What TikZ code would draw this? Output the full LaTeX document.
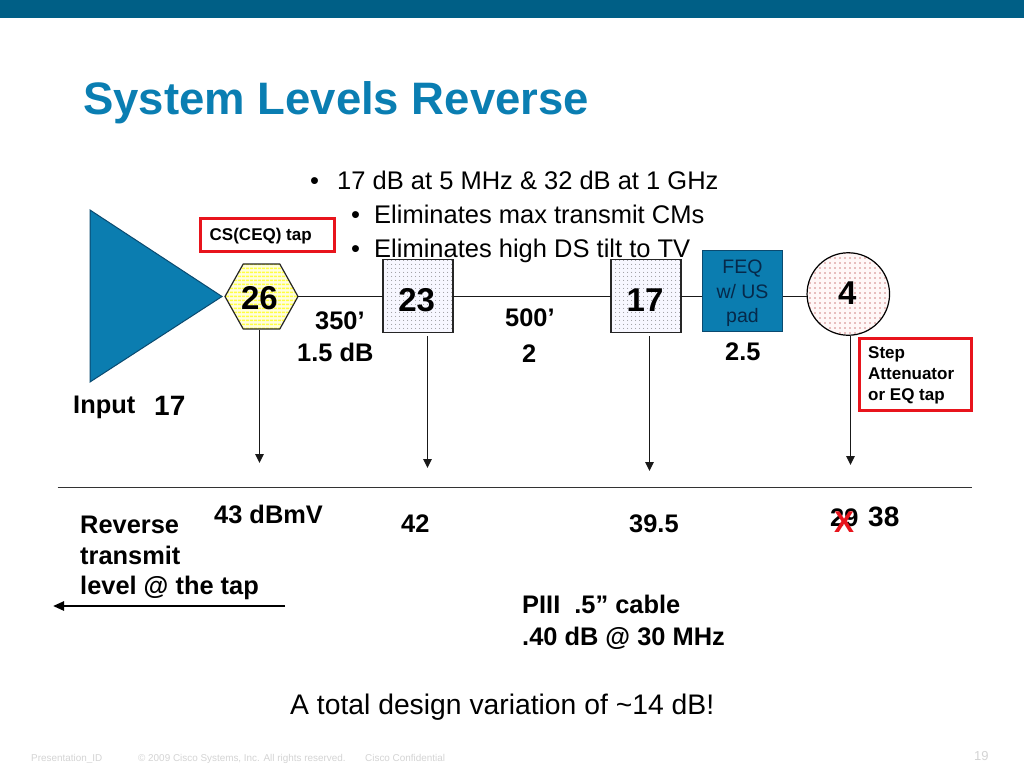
\documentclass[tikz,border=0pt]{standalone}
\usepackage{fontspec}
\setmainfont{Liberation Sans}
\usetikzlibrary{shapes.geometric,patterns.meta,arrows.meta}
\definecolor{ciscoblue}{HTML}{0A7EB2}
\definecolor{topbar}{HTML}{005F86}
\definecolor{boxblue}{HTML}{0B7DB0}
\definecolor{darkblue}{HTML}{0A4A70}
\definecolor{feqtext}{HTML}{06294A}
\definecolor{framered}{HTML}{E8141C}
\definecolor{footgray}{HTML}{D4D4D4}
\newcommand{\fs}[1]{\fontsize{#1}{#1}\selectfont}
\tikzset{
  lbl/.style={anchor=base west,inner sep=0pt,font=\fs{25.4}\bfseries},
  plain/.style={anchor=base west,inner sep=0pt,font=\fs{25.5}},
  small/.style={anchor=base west,inner sep=0pt,font=\fs{17}\bfseries},
  feqt/.style={anchor=base,inner sep=0pt,text=feqtext,font=\fs{19.5}},
  val/.style={inner sep=0pt,font=\fs{33}\bfseries},
  foot/.style={anchor=base west,inner sep=0pt,text=footgray,font=\fs{9.9}},
  wire/.style={draw=black!90,line width=1.5pt},
  drop/.style={draw=black!90,line width=1.5pt,-{Triangle[length=9pt,width=8.5pt]}},
  redbox/.style={draw=framered,line width=3pt,anchor=north west,inner sep=0pt,outer sep=0pt},
  dotbox/.style={draw=black!85,line width=1.2pt,minimum width=70pt,minimum height=73.5pt,inner sep=0pt,outer sep=0pt,
    preaction={fill=blue!3},
    pattern={Dots[distance=4pt,radius=0.6pt]},pattern color=black!60},
}
\begin{document}
\begin{tikzpicture}[x=1pt,y=-1pt]
\useasboundingbox (0,0) rectangle (1024,768);
\fill[white] (0,0) rectangle (1024,768);
\fill[topbar] (0,0) rectangle (1024,18);
\node[anchor=base west,inner sep=0pt,text=ciscoblue,font=\fs{45.5}\bfseries] (title) at (83,114) {System Levels Reverse};
% bullets
\node[plain] (b1) at (310,189) {•};
\node[plain] (t1) at (337,189) {17 dB at 5 MHz \& 32 dB at 1 GHz};
\node[plain] (b2) at (351,223) {•};
\node[plain] (t2) at (374,223) {Eliminates max transmit CMs};
\node[plain] (b3) at (351,257) {•};
\node[plain] (t3) at (374,257) {Eliminates high DS tilt to TV};
% amplifier
\path[fill=boxblue,draw=darkblue,line width=1pt] (90,210) -- (222,296.5) -- (90,382) -- cycle;
% devices
\node[regular polygon,regular polygon sides=6,minimum size=73pt,inner sep=0pt,outer sep=0pt,yscale=1.03,draw=black!85,line width=1.2pt,
  preaction={fill=yellow!12},pattern={Lines[angle=0,distance=4pt,line width=1.8pt]},pattern color=yellow!75] (hex) at (261.5,296.5) {};
\node[val] (v26) at (259.5,298) {26};
\node[dotbox] (d23) at (418,296) {};
\node[val] (v23) at (416.7,300.5) {23};
\node[dotbox] (d17) at (646,296) {};
\node[val] (v17) at (645,300) {17};
\node[draw=darkblue,line width=1pt,fill=boxblue,minimum width=80.5pt,minimum height=81.5pt,inner sep=0pt,outer sep=0pt] (feq) at (742.7,290.8) {};
\node[feqt] (q1) at (742.5,273) {FEQ};
\node[feqt] (q2) at (742.5,298) {w/ US};
\node[feqt] (q3) at (742.5,322) {pad};
\node[circle,draw=black,line width=1.2pt,minimum size=82.5pt,inner sep=0pt,outer sep=0pt,preaction={fill=red!3},
  pattern={Dots[distance=5pt,radius=0.65pt]},pattern color=red!60!black] (circ) at (848.3,294) {};
\node[val] (v4) at (847.3,293.5) {4};
% wires
\draw[wire] (hex.east |- 0,296.5) -- (d23.west |- 0,296.5);
\draw[wire] (d23.east |- 0,296.5) -- (d17.west |- 0,296.5);
\draw[wire] (d17.east |- 0,296.5) -- (feq.west |- 0,296.5);
\draw[wire] (feq.east |- 0,296.5) -- (circ.west |- 0,296.5);
% drops
\coordinate (s26) at (259.5,330); \coordinate (e26) at (259.5,463);
\coordinate (s23) at (427.5,336); \coordinate (e23) at (427.5,468);
\coordinate (s17) at (649.5,336); \coordinate (e17) at (649.5,471);
\coordinate (s4) at (850.5,336); \coordinate (e4) at (850.5,465);
\draw[drop] (s26) -- (e26);
\draw[drop] (s23) -- (e23);
\draw[drop] (s17) -- (e17);
\draw[drop] (s4) -- (e4);
% baseline
\coordinate (hl) at (57.5,487.5); \coordinate (hr) at (972,487.5);
\draw[draw=black!80,line width=1.6pt] (hl) -- (hr);
\coordinate (al) at (53,606); \coordinate (ar) at (285,606);
\draw[draw=black,line width=2.4pt,-{Triangle[length=11pt,width=9pt]}] (ar) -- (al);
% red frames
\node[redbox,minimum width=134pt,minimum height=33pt] (csbox) at (200.5,218.5) {};
\node[small] (cs) at (209.5,240) {CS(CEQ) tap};
\node[redbox,minimum width=112pt,minimum height=72pt] (stepbox) at (859.5,338.2) {};
\node[small] (st1) at (868,358) {Step};
\node[small] (st2) at (868,379) {Attenuator};
\node[small] (st3) at (868,400) {or EQ tap};
% labels
\node[lbl] (l350) at (315,329) {350’};
\node[lbl] (l15) at (297,361) {1.5 dB};
\node[lbl] (l500) at (505,326) {500’};
\node[lbl] (l2) at (522,362) {2};
\node[lbl] (l25) at (725,360) {2.5};
\node[lbl] (inp) at (73,413) {Input};
\node[lbl,font=\fs{28}\bfseries] (i17) at (154,415) {17};
\node[lbl] (l43) at (214,523) {43 dBmV};
\node[lbl] (l42) at (401,532) {42};
\node[lbl] (l395) at (629,532) {39.5};
\node[lbl] (l29) at (830,526.5) {29};
\node[lbl,font=\fs{28}\bfseries] (l38) at (868,526.5) {38};
\node[lbl,text=framered,font=\fs{30}\bfseries] (x) at (834,532) {X};
\node[lbl] (r1) at (80,533) {Reverse};
\node[lbl] (r2) at (80,564) {transmit};
\node[lbl] (r3) at (80,594) {level @ the tap};
\node[lbl] (p1) at (522,613) {PIII\ \ .5” cable};
\node[lbl] (p2) at (522,645) {.40 dB @ 30 MHz};
\node[plain,font=\fs{28.3}] (tot) at (290,714) {A total design variation of \textasciitilde 14 dB!};
% footer
\node[foot] (f1) at (31,761.5) {Presentation\_ID};
\node[foot] (f2) at (138,761.5) {© 2009 Cisco Systems, Inc. All rights reserved.};
\node[foot] (f3) at (365,761.5) {Cisco Confidential};
\node[foot,font=\fs{13}] (f4) at (974,760) {19};
\end{tikzpicture}
\end{document}
